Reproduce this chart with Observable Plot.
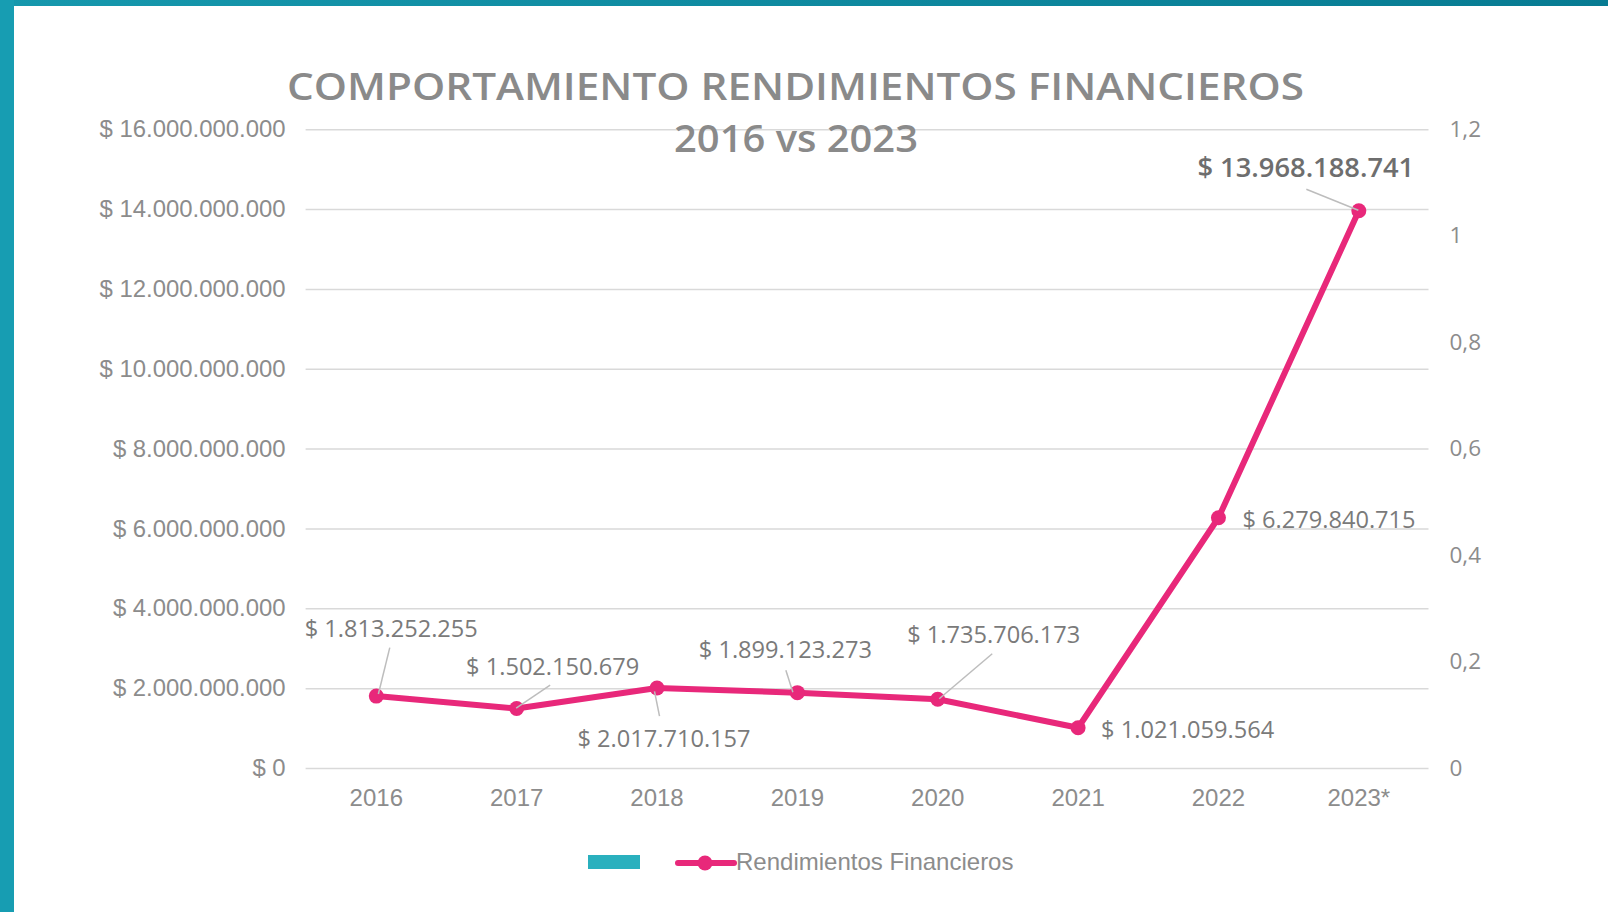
<!DOCTYPE html>
<html><head><meta charset="utf-8">
<script src="https://cdn.jsdelivr.net/npm/d3@7"></script>
<script src="https://cdn.jsdelivr.net/npm/@observablehq/plot@0.6"></script>
<style>
html,body{margin:0;padding:0;background:#fff;}
#page{position:relative;width:1608px;height:912px;overflow:hidden;background:#fff;}
#leftbar{position:absolute;left:0;top:0;width:14px;height:912px;background:#179db2;}
#topbar{position:absolute;left:0;top:0;width:1608px;height:6px;background:linear-gradient(90deg,#1698ad,#077b92);}
#chart{position:absolute;left:0;top:0;}
.title{position:absolute;top:0;left:0;font-family:"Open Sans",sans-serif;font-weight:600;color:#8a8a8a;white-space:nowrap;line-height:37px;font-size:37px;transform-origin:0 50%;}
#legend-bar{position:absolute;left:588px;top:855px;width:52px;height:14px;background:#2ab0be;}
#legend-swatch{position:absolute;left:674px;top:850px;}
#legend-text{position:absolute;left:736px;top:850px;font-family:"Liberation Sans",Arial,sans-serif;font-size:24px;line-height:24px;color:#8c8c8c;white-space:nowrap;}
</style></head>
<body>
<div id="page">
  <div id="chart"></div>
  <div id="topbar"></div>
  <div id="leftbar"></div>
  <div class="title" id="t1">COMPORTAMIENTO RENDIMIENTOS FINANCIEROS</div>
  <div class="title" id="t2">2016 vs 2023</div>
  <div id="legend-bar"></div>
  <svg id="legend-swatch" width="64" height="26"></svg>
  <div id="legend-text">Rendimientos Financieros</div>
</div>
<script>
// ---- data ----
const years = ["2016","2017","2018","2019","2020","2021","2022","2023*"];
const values = [1813252255,1502150679,2017710157,1899123273,1735706173,1021059564,6279840715,13968188741];
const leftTicks = [0,2e9,4e9,6e9,8e9,10e9,12e9,14e9,16e9];
const rightTicks = [0,0.2,0.4,0.6,0.8,1,1.2];
const leftMax = 16e9, rightMax = 1.2;
const seriesName = "Rendimientos Financieros";

// label placement (pixel offsets from each point)
const labelDx = [15, 36, 7, -12, 56, 23, 24, -53];
const labelDy = [-67, -41, 51, -42, -64, 3, 3, -43];
const labelAnchor = ["middle","middle","middle","middle","middle","start","start","middle"];
// leader lines: [index, dx1, dy1, dx2, dy2]
const leaders = [[0,14,-48,2.6,-1.6],[1,34,-23,0,0],[2,-2,4,3,28.6],[3,-11,-22,-4,0],[4,55,-45,2,0],[7,-52,-21,0,0]];

const pink = "#e8287a";
const loc = d3.formatLocale({decimal:",", thousands:".", grouping:[3], currency:["$ ",""]});
const money = loc.format("$,.0f");
const rfmt = loc.format(",.1~f");

const data = years.map((y,i)=>({year:y, value:values[i]}));

const labelMarks = data.map((d,i)=>Plot.text([d], {
  x:"year", y:"value", text: e=>money(e.value),
  dx: labelDx[i], dy: labelDy[i], textAnchor: labelAnchor[i],
  fontSize: i===7 ? 27.3 : 23.6, fontWeight: i===7 ? 600 : 400,
  fill: i===7 ? "#6e6e6e" : "#7a7a7a", fontFamily:"Open Sans"
}));

const chart = Plot.plot({
  width:1608, height:912,
  marginLeft:305.6, marginRight:179.5, marginTop:129.2, marginBottom:144,
  style:{background:"transparent", fontFamily:"Liberation Sans, Arial, sans-serif"},
  x:{type:"point", domain:years, padding:0.5, round:false},
  y:{domain:[0,leftMax]},
  marks:[
    Plot.gridY(leftTicks, {stroke:"#d9d9d9", strokeOpacity:1, strokeWidth:1.5}),
    Plot.axisY(leftTicks, {anchor:"left", tickSize:0, tickPadding:20.5, tickFormat:money, fontSize:23.9, fill:"#8c8c8c", label:null}),
    Plot.axisY(rightTicks.map(v=>v/rightMax*leftMax), {anchor:"right", tickSize:0, tickPadding:20.5, tickFormat:d=>rfmt(d/leftMax*rightMax), fontSize:22.5, fill:"#8c8c8c", fontFamily:"Open Sans", label:null}),
    Plot.axisX({anchor:"bottom", tickSize:0, tickPadding:20, fontSize:24, fill:"#8c8c8c", label:null}),
    Plot.line(data, {x:"year", y:"value", stroke:pink, strokeWidth:6, strokeLinejoin:"round", strokeLinecap:"round"}),
    Plot.dot(data, {x:"year", y:"value", r:7.5, fill:pink, stroke:null}),
    ...labelMarks
  ]
});
document.getElementById("chart").appendChild(chart);

// leader lines through the plot's own scales
const sx = chart.scale("x"), sy = chart.scale("y");
const g = d3.select(chart).append("g").attr("stroke","#bdbdbd").attr("stroke-width",1.5);
leaders.forEach(([i,x1,y1,x2,y2])=>{
  const px = sx.apply(years[i]), py = sy.apply(values[i]);
  g.append("line").attr("x1",px+x1).attr("y1",py+y1).attr("x2",px+x2).attr("y2",py+y2);
});

// titles: stretch horizontally to the measured widths and centre
function placeTitle(id, cx, top, targetW){
  const el = document.getElementById(id);
  const w0 = el.getBoundingClientRect().width;
  const k = targetW / w0;
  el.style.left = (cx - targetW/2) + "px";
  el.style.top = top + "px";
  el.style.transform = "scaleX(" + k + ")";
}
placeTitle("t1", 795.5, 67, 1017);
placeTitle("t2", 795.5, 118.5, 244);

// legend swatch
const sw = d3.select("#legend-swatch");
sw.append("line").attr("x1",4).attr("x2",60).attr("y1",13).attr("y2",13).attr("stroke",pink).attr("stroke-width",6).attr("stroke-linecap","round");
sw.append("circle").attr("cx",31).attr("cy",13).attr("r",7.5).attr("fill",pink);
document.getElementById("legend-text").textContent = seriesName;
</script>
</body></html>
